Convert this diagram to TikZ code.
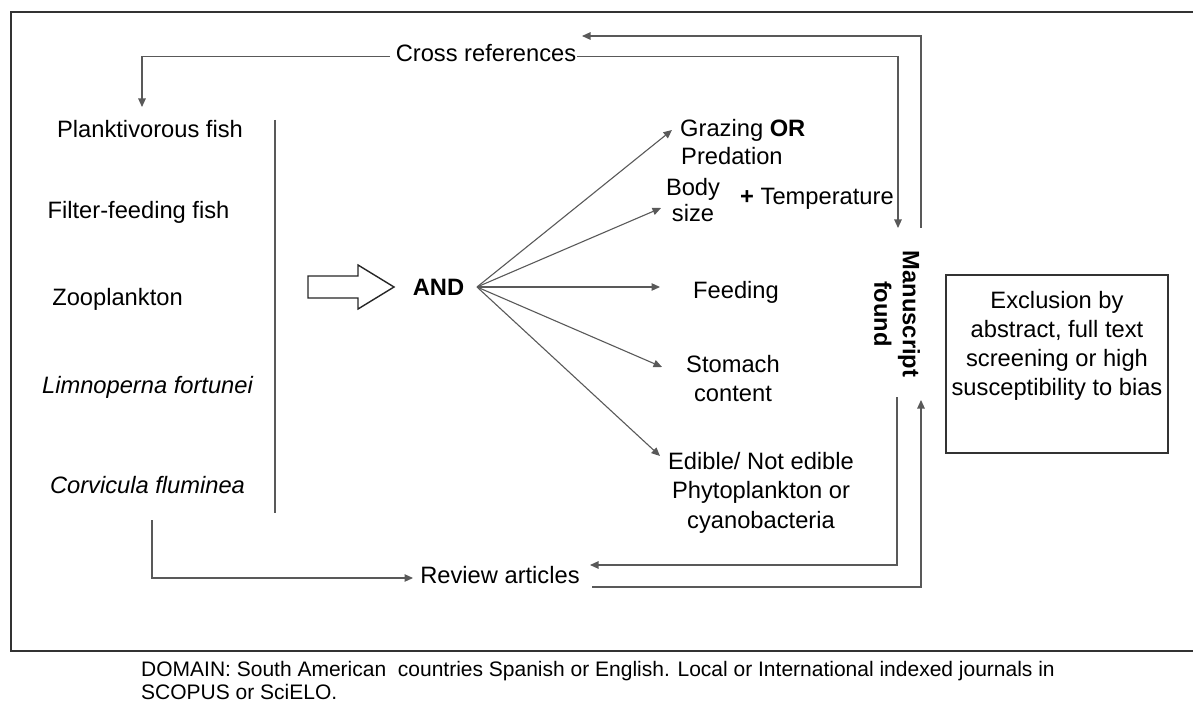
\documentclass[tikz,border=0pt]{standalone}
\usepackage{fontspec}
\setmainfont{Liberation Sans}
\usetikzlibrary{arrows.meta}
\begin{document}
\begin{tikzpicture}[x=1pt,y=-1pt,
  lbl/.style={font=\fontsize{23.7}{28.5}\selectfont, inner sep=0pt, align=center, anchor=base},
  conn/.style={draw=black!65, line width=1.1pt, -{Triangle[length=8.5pt,width=7.5pt]}},
  plain/.style={draw=black!65, line width=1.1pt},
  frame/.style={draw=black!80, line width=1.8pt}]
\useasboundingbox (0,0) rectangle (1193,703);
% outer frame (open on the right)
\draw[frame] (1200,12) -- (11,12) -- (11,651) -- (1200,651);

% texts (multi-line nodes: base anchor = baseline of the last line)
\node[lbl] (cross) at (486,62) {Cross references};
\node[lbl] (plank) at (150,138) {Planktivorous fish};
\node[lbl] (filter) at (138.5,219) {Filter-feeding fish};
\node[lbl] (zoo) at (117.5,305) {Zooplankton};
\node[lbl, font=\fontsize{23.7}{28.5}\selectfont\itshape] (limno) at (147.5,393) {Limnoperna fortunei};
\node[lbl, font=\fontsize{23.7}{28.5}\selectfont\itshape] (corv) at (147.5,493) {Corvicula fluminea};
\node[lbl, font=\fontsize{23.7}{28.5}\selectfont\bfseries] (and) at (438.5,295) {AND};

\node[lbl, align=left, anchor=base west, font=\fontsize{23.7}{28}\selectfont] (graz) at (680,165) {Grazing \textbf{OR}\\\hspace*{1pt}Predation};
\node[lbl, font=\fontsize{23.7}{26}\selectfont] (body) at (693,222) {Body\\size};
\node[lbl, anchor=base west] (temp) at (740,205) {\textbf{+} Temperature};
\node[lbl] (feed) at (736,298) {Feeding};
\node[lbl, font=\fontsize{23.7}{29}\selectfont] (stom) at (733,401) {Stomach\\content};
\node[lbl, font=\fontsize{23.7}{29.5}\selectfont] (edib) at (761,528) {Edible/ Not edible\\Phytoplankton or\\cyanobacteria};

\node[lbl, font=\fontsize{23.7}{28.5}\selectfont\bfseries, rotate=-90, anchor=center] (ms) at (897,314) {Manuscript\\found};

\node[lbl] (rev) at (500,583) {Review articles};

\draw[frame, line width=1.6pt] (946,275) rectangle (1168,453);
\node[lbl, font=\fontsize{23.7}{28.7}\selectfont] (excl) at (1057,395) {Exclusion by\\abstract, full text\\screening or high\\susceptibility to bias};

\node[font=\fontsize{21}{23}\selectfont, inner sep=0pt, align=left, anchor=base west] (dom) at (141,699)
  {DOMAIN: South American\ \ countries Spanish or English. Local or International indexed journals in\\SCOPUS or SciELO.};

% named connector ends
\coordinate (plankTip) at (142,107);
\coordinate (msTopTip) at (898,228);
\coordinate (msTopOut) at (921,228);
\coordinate (crossTip) at (582,36);
\coordinate (msBotOut) at (897,397);
\coordinate (revTip) at (590,565);
\coordinate (revOut) at (592,587);
\coordinate (msBotTip) at (921,400);
\coordinate (corvOut) at (152,520);
\coordinate (revInTip) at (413,578);
\coordinate (fan) at (477,287);
\coordinate (gTip) at (672,130);
\coordinate (bTip) at (661,208);
\coordinate (fTip) at (660,287);
\coordinate (sTip) at (662,367);
\coordinate (eTip) at (660,456);
\coordinate (sepTop) at (275,120);
\coordinate (sepBot) at (275,513);

% connectors
\draw[conn] ([xshift=-6pt,yshift=-3pt]cross.west) -| (plankTip);
\draw[conn] ([xshift=1pt,yshift=-3pt]cross.east) -| (msTopTip);
\draw[conn] (msTopOut) |- (crossTip);
\draw[conn] (msBotOut) |- (revTip);
\draw[conn] (revOut) -| (msBotTip);
\draw[conn] (corvOut) |- (revInTip);
\draw[plain] (sepTop) -- (sepBot);

\foreach \t in {gTip,bTip,fTip,sTip,eTip}
  \draw[conn] (fan) -- (\t);

% block arrow
\draw[draw=black!85, line width=1.4pt, fill=white]
  (308,276) -- (358,276) -- (358,265) -- (394,287) -- (358,309) -- (358,298) -- (308,298) -- cycle;
\end{tikzpicture}
\end{document}
